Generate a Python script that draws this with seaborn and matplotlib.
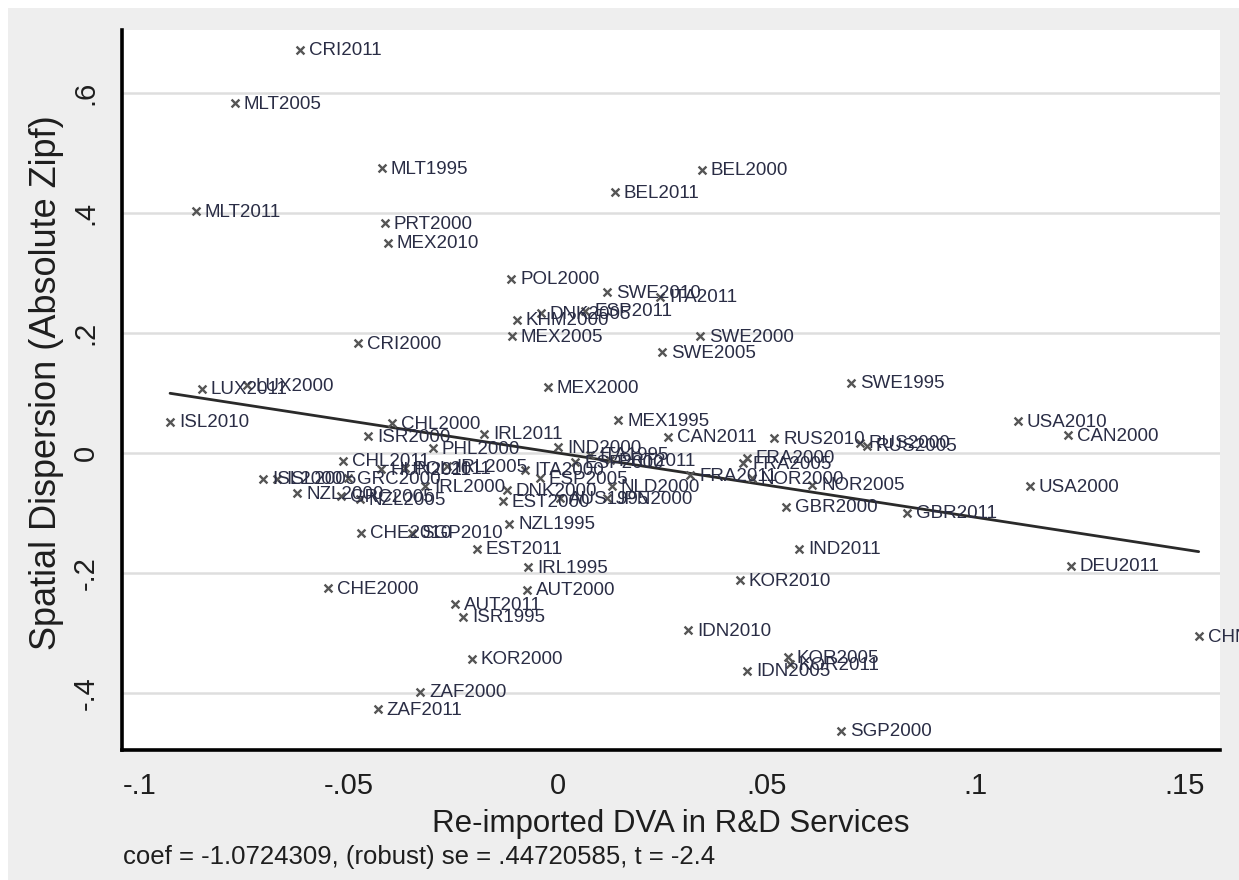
import numpy as np
import pandas as pd
import matplotlib
matplotlib.use("Agg")
import matplotlib.pyplot as plt
import seaborn as sns
from matplotlib.patches import Rectangle

# ---------------- data ----------------
labels = [
    "CRI2011", "MLT2005", "MLT1995", "MLT2011", "BEL2000", "BEL2011", "PRT2000", "MEX2010",
    "POL2000", "SWE2010", "ITA2011", "DNK2005", "ESP2011", "KHM2000", "MEX2005", "SWE2000",
    "SWE2005", "CRI2000", "MEX2000", "SWE1995", "LUX2011", "LUX2000", "ISL2010", "CHL2000",
    "ISR2000", "IRL2011", "MEX1995", "CAN2011", "RUS2010", "RUS2000", "RUS2005", "USA2010",
    "CAN2000", "USA2000", "GBR2011", "DEU2011", "CHN2011", "FRA2000", "FRA2005", "FRA2011",
    "NOR2000", "NOR2005", "GBR2000", "IND2011", "KOR2010", "IDN2010", "KOR2005", "KOR2011",
    "IDN2005", "SGP2000", "ZAF2000", "ZAF2011", "KOR2000", "ISR1995", "AUT2011", "AUT2000",
    "IRL1995", "EST2011", "CHE2000", "CHE2010", "SGP2010", "NZL1995", "EST2000", "NLD2000",
    "CHL2011", "ISL2000", "ISL2005", "GRC2000", "NZL2000", "GRC2005", "NZL2005", "PHL2000",
    "HUN2011", "POL2011", "IRL2005", "IRL2000", "IND2000", "ITA1995", "PRT2011", "ESP2000",
    "ITA2000", "ESP2005", "DNK2000", "AUS1995", "JPN2000",
]
x_vals = [
    -0.0617, -0.0773, -0.0421, -0.0866, 0.0344, 0.0136, -0.0414, -0.0407,
    -0.0112, 0.0117, 0.0244, -0.0041, 0.0065, -0.0098, -0.0110, 0.0340,
    0.0249, -0.0478, -0.0024, 0.0701, -0.0852, -0.0744, -0.0928, -0.0397,
    -0.0455, -0.0177, 0.0144, 0.0263, 0.0517, 0.0722, 0.0739, 0.1100,
    0.1220, 0.1129, 0.0835, 0.1227, 0.1533, 0.0452, 0.0443, 0.0316,
    0.0464, 0.0608, 0.0545, 0.0577, 0.0435, 0.0311, 0.0550, 0.0555,
    0.0452, 0.0677, -0.0330, -0.0431, -0.0206, -0.0227, -0.0246, -0.0074,
    -0.0072, -0.0194, -0.0550, -0.0471, -0.0349, -0.0117, -0.0132, 0.0129,
    -0.0514, -0.0706, -0.0672, -0.0502, -0.0624, -0.0520, -0.0474, -0.0299,
    -0.0423, -0.0366, -0.0266, -0.0318, 0.0000, 0.0077, 0.0124, 0.0041,
    -0.0079, -0.0043, -0.0122, 0.0005, 0.0117,
]
y_vals = [
    0.672, 0.583, 0.475, 0.403, 0.472, 0.435, 0.383, 0.350,
    0.290, 0.268, 0.260, 0.233, 0.237, 0.222, 0.195, 0.195,
    0.168, 0.183, 0.110, 0.117, 0.107, 0.113, 0.052, 0.050,
    0.028, 0.032, 0.055, 0.027, 0.025, 0.017, 0.012, 0.053,
    0.030, -0.055, -0.100, -0.188, -0.305, -0.008, -0.017, -0.037,
    -0.042, -0.053, -0.090, -0.160, -0.212, -0.295, -0.340, -0.352,
    -0.363, -0.463, -0.398, -0.427, -0.343, -0.273, -0.252, -0.228,
    -0.190, -0.160, -0.225, -0.133, -0.133, -0.118, -0.080, -0.055,
    -0.013, -0.043, -0.043, -0.042, -0.067, -0.072, -0.077, 0.008,
    -0.027, -0.025, -0.022, -0.055, 0.010, -0.003, -0.012, -0.015,
    -0.028, -0.042, -0.062, -0.075, -0.075,
]
coef = -1.0724309
intercept = 0.0
x_ticks = [-0.1, -0.05, 0.0, 0.05, 0.1, 0.15]
x_tick_labels = ["-.1", "-.05", "0", ".05", ".1", ".15"]
y_ticks = [-0.4, -0.2, 0.0, 0.2, 0.4, 0.6]
y_tick_labels = ["-.4", "-.2", "0", ".2", ".4", ".6"]
x_title = "Re-imported DVA in R&D Services"
y_title = "Spatial Dispersion (Absolute Zipf)"
note = "coef = -1.0724309, (robust) se = .44720585, t = -2.4"

# ---------------- style ----------------
sns.set_style("white")
plt.rcParams["font.family"] = ["Liberation Sans", "DejaVu Sans"]
TXT = "#1e1e1e"

W, H = 1239, 880
fig = plt.figure(figsize=(W / 100, H / 100), dpi=100, facecolor="white")
fig.patches.append(Rectangle((8 / W, 0), 1 - 8 / W, 1 - 8 / H, transform=fig.transFigure,
                             facecolor="#eeeeee", edgecolor="none", zorder=-10))
ax = fig.add_axes([122 / W, 1 - 750 / H, (1220 - 122) / W, (750 - 30) / H])
ax.set_facecolor("white")

df = pd.DataFrame({"x": x_vals, "y": y_vals, "label": labels})
sns.scatterplot(data=df, x="x", y="y", marker="x", s=32, color="#555555",
                linewidth=1.7, ax=ax, zorder=3, legend=False)
for lab, xv, yv in zip(labels, x_vals, y_vals):
    ax.annotate(lab, (xv, yv), xytext=(9, -1), textcoords="offset pixels",
                fontsize=13.5, color="#2a2d45", ha="left", va="center",
                annotation_clip=False, zorder=4)

xs = np.array([min(x_vals), max(x_vals)])
sns.lineplot(x=xs, y=intercept + coef * xs, ax=ax, color="#2a2a2a", linewidth=2, zorder=2)

ax.set_xlim(-0.1043, 0.1584)
ax.set_ylim(-0.495, 0.705)
ax.set_xticks(x_ticks)
ax.set_xticklabels(x_tick_labels, fontsize=21, color=TXT)
ax.set_yticks(y_ticks)
ax.set_yticklabels(y_tick_labels, fontsize=21, rotation=90, va="center", color=TXT)
ax.tick_params(axis="both", direction="out", length=11, width=2, color="black", pad=5)
ax.yaxis.grid(True, color="#dedede", linewidth=1.8)
ax.xaxis.grid(False)
ax.set_axisbelow(True)
for side in ["top", "right"]:
    ax.spines[side].set_visible(False)
for side in ["left", "bottom"]:
    ax.spines[side].set_color("black")
    ax.spines[side].set_linewidth(2.6)

ax.set_xlabel(x_title, fontsize=22.5, labelpad=6, color=TXT)
ax.set_ylabel(y_title, fontsize=26, color=TXT)
ax.yaxis.set_label_coords((64 - 122) / 1098, 0.51)
fig.text(123 / W, 1 - 857 / H, note, fontsize=18.5, va="center", ha="left", color=TXT)

fig.savefig("out.png", dpi=100, facecolor=fig.get_facecolor())
